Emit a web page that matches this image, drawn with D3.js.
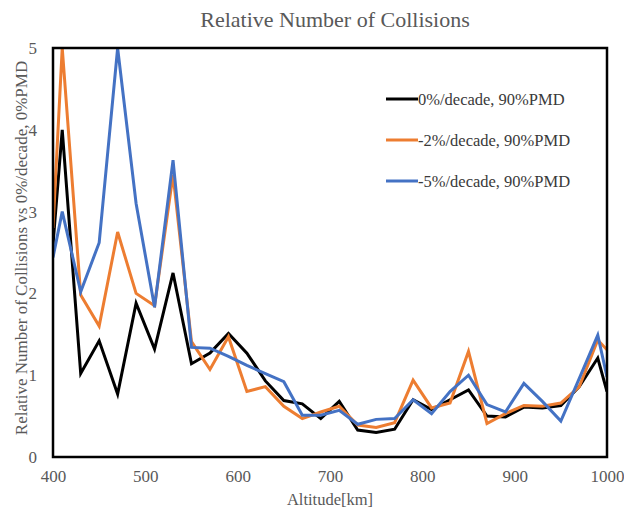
<!DOCTYPE html>
<html><head><meta charset="utf-8">
<script src="https://cdn.jsdelivr.net/npm/d3@7"></script>
<style>body{margin:0;background:#fff}svg{display:block}</style>
</head><body><svg id="c" width="624" height="512"></svg>
<script>
const altitudes = [400,410,430,450,470,490,510,530,550,570,590,610,630,650,670,690,710,730,750,770,790,810,830,850,870,890,910,930,950,970,990,1000];
const black0 = [2.6,4.0,1.02,1.42,0.77,1.88,1.32,2.25,1.14,1.27,1.51,1.27,0.93,0.69,0.65,0.47,0.68,0.33,0.30,0.34,0.70,0.58,0.70,0.82,0.50,0.49,0.61,0.60,0.63,0.86,1.21,0.80];
const orange2 = [2.8,5.0,1.98,1.60,2.75,2.0,1.85,3.45,1.41,1.07,1.47,0.80,0.86,0.62,0.47,0.55,0.62,0.39,0.36,0.42,0.94,0.60,0.66,1.29,0.41,0.53,0.63,0.62,0.66,0.86,1.43,1.31];
const blue5 = [2.44,3.0,2.02,2.62,5.0,3.1,1.83,3.63,1.34,1.33,1.23,1.12,1.02,0.92,0.51,0.51,0.57,0.40,0.46,0.47,0.70,0.53,0.80,1.0,0.64,0.55,0.90,0.68,0.44,0.96,1.49,0.98];
const seriesNames = ["0%/decade, 90%PMD","-2%/decade, 90%PMD","-5%/decade, 90%PMD"];
const seriesColors = ["#000000","#ED7D31","#4472C4"];
const xTicks = [400,500,600,700,800,900,1000];
const yTicks = [0,1,2,3,4,5];

const svg = d3.select("#c");
const L=53,R=607,T=48,B=457;
const x = d3.scaleLinear().domain([400,1000]).range([L,R]);
const y = d3.scaleLinear().domain([0,5]).range([B,T]);
const font = "'Liberation Serif','Times New Roman',serif";
const gray = "#595959";

svg.append("text").attr("x",335).attr("y",27).attr("text-anchor","middle")
  .style("font-family",font).style("font-size","22px").attr("fill",gray).text("Relative Number of Collisions");

svg.append("defs").append("clipPath").attr("id","clip").append("rect")
  .attr("x",L).attr("y",T).attr("width",R-L).attr("height",B-T);

const xAxis = svg.append("g").attr("transform",`translate(0,${B})`)
  .call(d3.axisBottom(x).tickValues(xTicks).tickSize(0).tickPadding(13).tickFormat(d3.format("d")));
const yAxis = svg.append("g").attr("transform",`translate(${L},0)`)
  .call(d3.axisLeft(y).tickValues(yTicks).tickSize(0).tickPadding(16).tickFormat(d3.format("d")));
[xAxis,yAxis].forEach(g=>{
  g.select(".domain").remove();
  g.selectAll("text").style("font-family",font).style("font-size","17px").attr("fill",gray);
});

const line = d3.line().x((d,i)=>x(altitudes[i])).y(d=>y(d));
const data = [black0, orange2, blue5];
const g = svg.append("g").attr("clip-path","url(#clip)");
data.forEach((s,k)=>{
  g.append("path").datum(s).attr("d",line).attr("fill","none")
   .attr("stroke",seriesColors[k]).attr("stroke-width",3).attr("stroke-linejoin","miter");
});

svg.append("rect").attr("x",L).attr("y",T).attr("width",R-L).attr("height",B-T)
  .attr("fill","none").attr("stroke","#000").attr("stroke-width",2.5);

svg.append("text").attr("transform",`translate(27,248) rotate(-90)`).attr("text-anchor","middle")
  .style("font-family",font).style("font-size","17px").attr("fill",gray)
  .text("Relative Number of Collisions vs 0%/decade, 0%PMD");
svg.append("text").attr("x",330).attr("y",505).attr("text-anchor","middle")
  .style("font-family",font).style("font-size","16.5px").attr("fill",gray).text("Altitude[km]");

const leg = svg.append("g");
seriesNames.forEach((n,k)=>{
  const yy = 99 + k*41;
  leg.append("line").attr("x1",386).attr("x2",418).attr("y1",yy).attr("y2",yy)
    .attr("stroke",seriesColors[k]).attr("stroke-width",3);
  leg.append("text").attr("x",418).attr("y",yy+5.5)
    .style("font-family",font).style("font-size","16.5px").attr("fill","#3a3a3a").text(n);
});
</script></body></html>
